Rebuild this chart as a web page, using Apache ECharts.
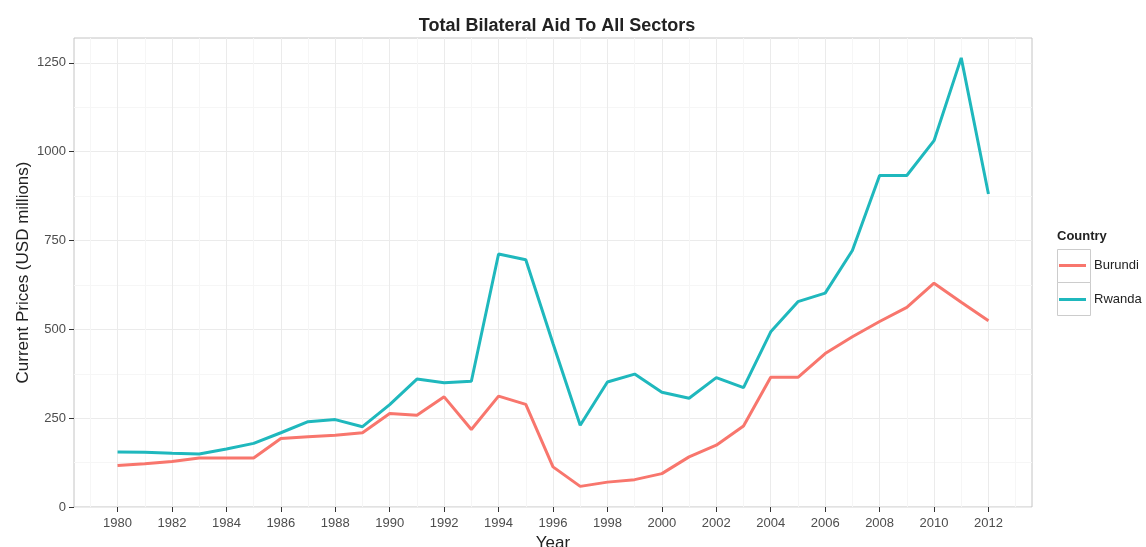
<!DOCTYPE html>
<html>
<head>
<meta charset="utf-8">
<script src="https://cdn.jsdelivr.net/npm/echarts@6/dist/echarts.min.js"></script>
<style>html,body{margin:0;padding:0;background:#fff;}#c{width:1146px;height:547px;}</style>
</head>
<body>
<div id="c"></div>
<script>
const years = [1980,1981,1982,1983,1984,1985,1986,1987,1988,1989,1990,1991,1992,1993,1994,1995,1996,1997,1998,1999,2000,2001,2002,2003,2004,2005,2006,2007,2008,2009,2010,2011,2012];
const burundi = [117,122,128,138,138,138,193,198,202,209,263,258,310,218,312,289,113,58,70,77,94,141,174,228,365,365,432,479,522,562,630,576,524];
const rwanda = [155,154,151,149,163,179,209,240,246,226,288,360,350,354,712,696,460,230,352,374,323,306,364,336,493,578,602,722,933,933,1031,1264,881];
const xTicks = [1980,1982,1984,1986,1988,1990,1992,1994,1996,1998,2000,2002,2004,2006,2008,2010,2012];
const xMinor = [1979,1981,1983,1985,1987,1989,1991,1993,1995,1997,1999,2001,2003,2005,2007,2009,2011,2013];
const yTicks = [0,250,500,750,1000,1250];
const yMinor = [125,375,625,875,1125];

const X_MIN = 1978.4, X_MAX = 2013.6, Y_MIN = 0, Y_MAX = 1320;
const font = 'Liberation Sans, Arial, sans-serif';

const chart = echarts.init(document.getElementById('c'));
chart.setOption({
  animation: false,
  backgroundColor: '#fff',
  title: {
    text: 'Total Bilateral Aid To All Sectors',
    left: 552, top: 12, textAlign: 'center',
    textStyle: {fontFamily: font, fontSize: 18, fontWeight: 'bold', color: '#222'}
  },
  legend: {
    orient: 'vertical',
    left: 1059, top: 259, padding: 0,
    itemWidth: 27, itemHeight: 3, itemGap: 21,
    icon: 'rect',
    textStyle: {fontFamily: font, fontSize: 13, color: '#222', padding: [0,0,0,3]},
    data: ['Burundi','Rwanda']
  },
  graphic: [
    {type: 'text', left: 1057, top: 230, style: {text: 'Country', font: 'bold 13px ' + font, fill: '#222'}},
    {type: 'rect', shape: {x: 1057.5, y: 249.5, width: 33, height: 33}, style: {fill: 'none', stroke: '#cccccc', lineWidth: 1}, z: -1},
    {type: 'rect', shape: {x: 1057.5, y: 282.5, width: 33, height: 33}, style: {fill: 'none', stroke: '#cccccc', lineWidth: 1}, z: -1}
  ],
  grid: {
    left: 74, right: 114, top: 38, bottom: 40,
    outerBoundsMode: 'none',
    show: true, borderColor: '#c4c4c4', borderWidth: 1, backgroundColor: '#fff'
  },
  xAxis: [
    {
      type: 'value', min: X_MIN, max: X_MAX,
      name: 'Year', nameLocation: 'middle', nameGap: 28,
      nameTextStyle: {fontFamily: font, fontSize: 17, color: '#222'},
      axisLine: {show: false},
      axisTick: {show: true, inside: false, length: 5, lineStyle: {color: '#333'}, customValues: xTicks},
      axisLabel: {fontFamily: font, fontSize: 13, color: '#4d4d4d', margin: 10, customValues: xTicks, formatter: v => String(v)},
      splitLine: {show: true, lineStyle: {color: '#ebebeb', width: 1}}
    },
    {
      type: 'value', min: X_MIN, max: X_MAX, position: 'bottom',
      axisLine: {show: false},
      axisTick: {show: false, customValues: xMinor},
      axisLabel: {show: false, customValues: xMinor},
      splitLine: {show: true, lineStyle: {color: '#f6f6f6', width: 1}}
    }
  ],
  yAxis: [
    {
      type: 'value', min: Y_MIN, max: Y_MAX,
      name: 'Current Prices (USD millions)', nameLocation: 'middle', nameGap: 42,
      nameMoveOverlap: false,
      nameTextStyle: {fontFamily: font, fontSize: 17, color: '#222'},
      axisLine: {show: false},
      axisTick: {show: true, inside: false, length: 5, lineStyle: {color: '#333'}, customValues: yTicks},
      axisLabel: {fontFamily: font, fontSize: 13, color: '#4d4d4d', margin: 8, customValues: yTicks, formatter: v => String(v)},
      splitLine: {show: true, lineStyle: {color: '#ebebeb', width: 1}}
    },
    {
      type: 'value', min: Y_MIN, max: Y_MAX, position: 'left',
      axisLine: {show: false},
      axisTick: {show: false, customValues: yMinor},
      axisLabel: {show: false, customValues: yMinor},
      splitLine: {show: true, lineStyle: {color: '#f6f6f6', width: 1}}
    }
  ],
  series: [
    {
      name: 'Burundi', type: 'line', xAxisIndex: 0, yAxisIndex: 0,
      data: years.map((y, i) => [y, burundi[i]]),
      showSymbol: false, symbol: 'none', z: 3,
      lineStyle: {color: '#F8766D', width: 3}, itemStyle: {color: '#F8766D'}
    },
    {
      name: 'Rwanda', type: 'line', xAxisIndex: 0, yAxisIndex: 0,
      data: years.map((y, i) => [y, rwanda[i]]),
      showSymbol: false, symbol: 'none', z: 3,
      lineStyle: {color: '#1FB8BD', width: 3}, itemStyle: {color: '#1FB8BD'}
    }
  ]
});
</script>
</body>
</html>
